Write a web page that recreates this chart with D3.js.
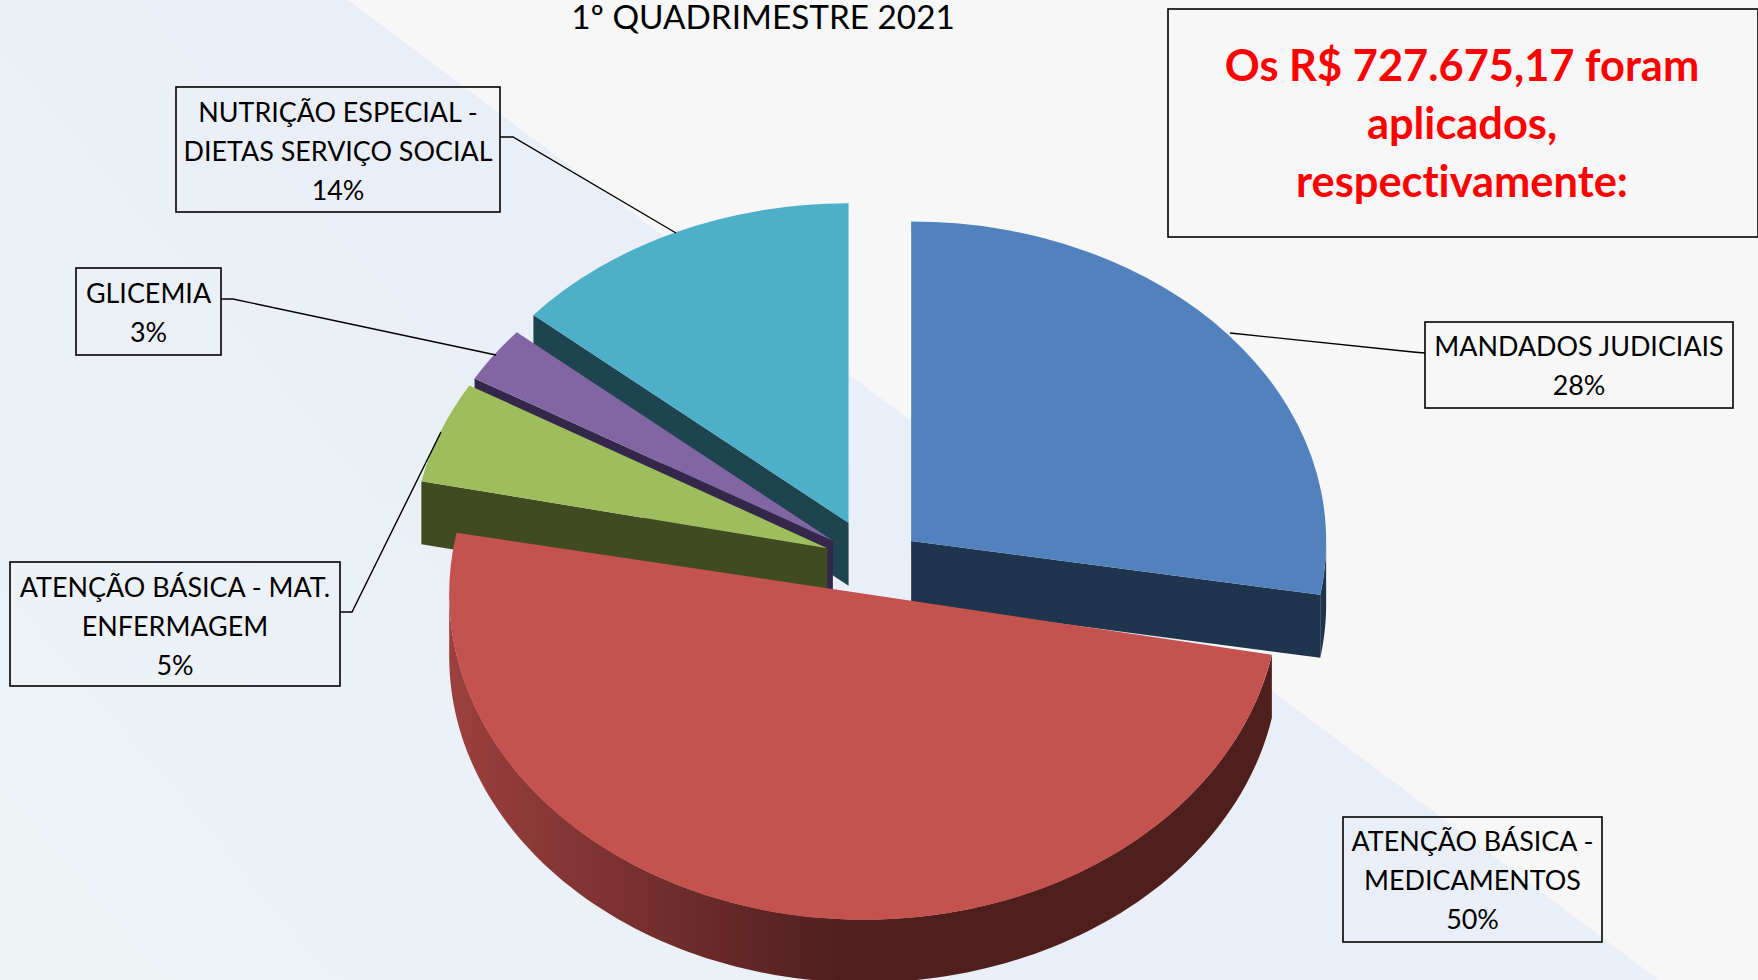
<!DOCTYPE html>
<html><head><meta charset="utf-8">
<script src="https://cdnjs.cloudflare.com/ajax/libs/d3/7.8.5/d3.min.js"></script>
<style>html,body{margin:0;padding:0;background:#f7f7f7;overflow:hidden}svg{display:block}
text{font-family:Lato,"Open Sans",sans-serif;fill:#000;font-variant-ligatures:none}</style></head>
<body><svg id="c" width="1758" height="980"></svg>
<script>
// ---- data ----
const categories = ["MANDADOS JUDICIAIS","ATENÇÃO BÁSICA - MEDICAMENTOS","ATENÇÃO BÁSICA - MAT. ENFERMAGEM","GLICEMIA","NUTRIÇÃO ESPECIAL - DIETAS SERVIÇO SOCIAL"];
const values = [28,50,5,3,14];
const labelLines = [["MANDADOS JUDICIAIS"],["ATENÇÃO BÁSICA -","MEDICAMENTOS"],["ATENÇÃO BÁSICA - MAT.","ENFERMAGEM"],["GLICEMIA"],["NUTRIÇÃO ESPECIAL -","DIETAS SERVIÇO SOCIAL"]];
const title = "1º QUADRIMESTRE 2021";
const calloutLines = ["Os R$ 727.675,17 foram","aplicados,","respectivamente:"];

// ---- styles / layout ----
const topColors  = ["#5282bd","#c4524f","#9ebd5c","#8265a3","#4dafc8"];
const sideColors = ["#1f344d","#4f1f1e","#404b22","#33274a","#1e444f"];
const cx=873.4, cy=556, R=415, depth=63, explode=49;
const tilts=[.77,.785,.775,.775,.77];
const nudgeX=[0,0,0,0,-4], nudgeY=[9,0,5,6,1];
// small perspective corrections of the drawn cut edges, in degrees
const trimStart=[0,0,1.2,1.5,1], trimEnd=[-1.1,0,1.6,.8,0];
const boxes=[
 {x:1425,y:322,w:308,h:86,tb:33.5,leader:[[1425,353],[1413,352],[1230,333]]},
 {x:1343,y:817,w:259,h:125,tb:34,leader:null},
 {x:10,y:562,w:330,h:124,tb:35,leader:[[340,612],[352,612],[441,432]]},
 {x:76,y:268,w:145,h:87,tb:35,leader:[[221,299],[233,299],[496,355]]},
 {x:176,y:87,w:324,h:125,tb:35,leader:[[500,137],[513,137],[676,233]]}];
const lineStep=39, fs=26.9;

const svg=d3.select("#c");
const defs=svg.append("defs");
const bg=defs.append("linearGradient").attr("id","bg").attr("x1",0).attr("y1",1).attr("x2",1).attr("y2",.5);
bg.append("stop").attr("offset",0).attr("stop-color","#eef3f6");
bg.append("stop").attr("offset",.5).attr("stop-color","#eaeff7");
const wg=defs.append("linearGradient").attr("id","wall").attr("gradientUnits","userSpaceOnUse").attr("x1",450).attr("x2",840).attr("y1",0).attr("y2",0);
wg.append("stop").attr("offset",0).attr("stop-color","#9c403e");
wg.append("stop").attr("offset",1).attr("stop-color",sideColors[1]);

svg.append("rect").attr("width",1758).attr("height",980).attr("fill","#f7f7f7");
svg.append("path").attr("d",d3.line()([[0,0],[348,0],[1659,980],[0,980]])+"Z").attr("fill","url(#bg)");

// ---- pie ----
const pie=d3.pie().sort(null).value(d=>d)(values);
const arc=d3.arc().innerRadius(0).outerRadius(R);
const HP=Math.PI/2, line=d3.line(), rad=Math.PI/180;

[4,3,2,0,1].forEach(i=>{
  const d=pie[i], tilt=tilts[i], m=(d.startAngle+d.endAngle)/2;
  const c=[cx+explode*Math.sin(m)+nudgeX[i], cy-explode*Math.cos(m)*tilt+nudgeY[i]];
  const pt=(a,dz=0)=>[c[0]+R*Math.sin(a), c[1]-R*Math.cos(a)*tilt+dz];
  const a0=d.startAngle+trimStart[i]*rad, a1=d.endAngle+trimEnd[i]*rad;
  const g=svg.append("g"), dark=sideColors[i];
  // visible cut face
  if(a0>Math.PI) g.append("path").attr("fill",dark).attr("d",line([c,pt(a0),pt(a0,depth),[c[0],c[1]+depth]])+"Z");
  if(a1<Math.PI) g.append("path").attr("fill",dark).attr("d",line([c,pt(a1),pt(a1,depth),[c[0],c[1]+depth]])+"Z");
  // visible outer wall
  const w0=Math.max(a0,HP), w1=Math.min(a1,3*HP);
  if(w1>w0){
    const n=d3.range(0,121).map(k=>w0+(w1-w0)*k/120);
    const pts=n.map(a=>pt(a)).concat(n.slice().reverse().map(a=>pt(a,depth)));
    g.append("path").attr("fill",i===1?"url(#wall)":dark).attr("d",line(pts)+"Z");
  }
  // top face
  g.append("path").attr("fill",topColors[i]).attr("d",arc({startAngle:a0,endAngle:a1}))
    .attr("transform",`translate(${c[0]},${c[1]}) scale(1,${tilt})`);
});

// ---- labels ----
boxes.forEach((b,i)=>{
  if(b.leader) svg.append("path").attr("d",line(b.leader)).attr("fill","none").attr("stroke","#000").attr("stroke-width",1.4);
  svg.append("rect").attr("x",b.x).attr("y",b.y).attr("width",b.w).attr("height",b.h)
    .attr("fill","none").attr("stroke","#000").attr("stroke-width",1.6);
  labelLines[i].concat(values[i]+"%").forEach((t,k)=>{
    svg.append("text").attr("x",b.x+b.w/2).attr("y",b.y+b.tb+k*lineStep)
      .attr("text-anchor","middle").attr("font-size",fs).text(t);
  });
});

svg.append("text").attr("x",763).attr("y",29).attr("text-anchor","middle").attr("font-size",33.3).text(title);

svg.append("rect").attr("x",1168).attr("y",9).attr("width",590).attr("height",228)
  .attr("fill","none").attr("stroke","#000").attr("stroke-width",1.6);
calloutLines.forEach((t,k)=>{
  svg.append("text").attr("x",1462).attr("y",81+k*58).attr("text-anchor","middle")
    .attr("font-size",43.4).attr("font-weight",700).style("fill","#ff0000").text(t);
});
</script></body></html>
